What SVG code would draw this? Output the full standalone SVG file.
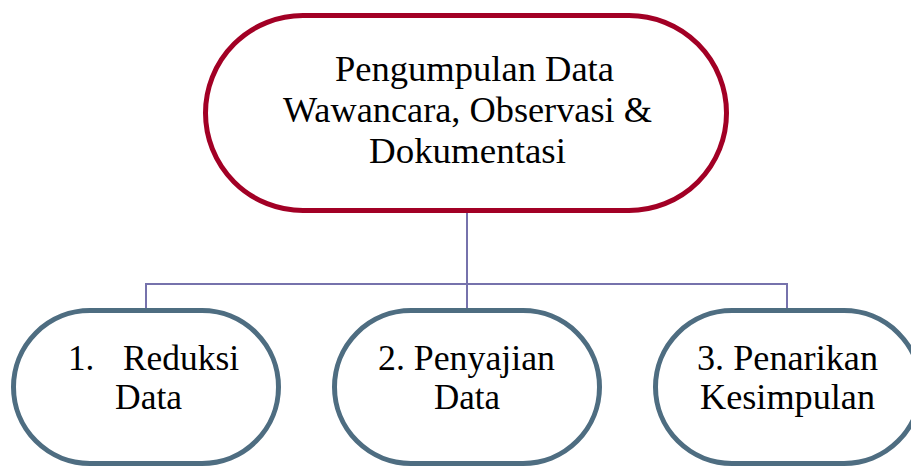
<svg xmlns="http://www.w3.org/2000/svg" width="911" height="468" viewBox="0 0 911 468">
<style>
.bg{fill:#ffffff}
.top{fill:#ffffff;stroke:#A20025;stroke-width:5}
.sub{fill:#ffffff;stroke:#4E6D81;stroke-width:5}
.conn{fill:none;stroke:#7672AC;stroke-width:2}
.t{font-family:"Liberation Serif","Times New Roman",serif;fill:#000000}
.t1{font-size:36px}
.t2{font-size:35px}
</style>
<rect class="bg" x="0" y="0" width="911" height="468"/>
<g id="connectors">
<path class="conn" d="M467 213 V284"/>
<path class="conn" d="M146 308 V284 H787 V308"/>
<path class="conn" d="M467 284 V308"/>
</g>
<g id="node-top">
<rect class="top" x="205.5" y="15.5" width="521" height="195" rx="97.5" ry="97.5"/>
<text class="t t1" x="335" y="81" textLength="279" lengthAdjust="spacingAndGlyphs">Pengumpulan Data</text>
<text class="t t1" x="283" y="122" textLength="369" lengthAdjust="spacingAndGlyphs">Wawancara, Observasi &amp;</text>
<text class="t t1" x="369" y="163" textLength="197" lengthAdjust="spacingAndGlyphs">Dokumentasi</text>
</g>
<g id="node-reduksi">
<rect class="sub" x="13.5" y="310.5" width="265" height="153" rx="76.5" ry="76.5"/>
<text class="t t2" x="68" y="370">1.</text>
<text class="t t2" x="123" y="370" textLength="116" lengthAdjust="spacingAndGlyphs">Reduksi</text>
<text class="t t2" x="115" y="409" textLength="67" lengthAdjust="spacingAndGlyphs">Data</text>
</g>
<g id="node-penyajian">
<rect class="sub" x="334.5" y="310.5" width="265" height="153" rx="76.5" ry="76.5"/>
<text class="t t2" x="378" y="370" textLength="177" lengthAdjust="spacingAndGlyphs">2. Penyajian</text>
<text class="t t2" x="434" y="409" textLength="66" lengthAdjust="spacingAndGlyphs">Data</text>
</g>
<g id="node-penarikan">
<rect class="sub" x="655.5" y="310.5" width="265" height="153" rx="76.5" ry="76.5"/>
<text class="t t2" x="697" y="370" textLength="181" lengthAdjust="spacingAndGlyphs">3. Penarikan</text>
<text class="t t2" x="700" y="409" textLength="175" lengthAdjust="spacingAndGlyphs">Kesimpulan</text>
</g>
</svg>
